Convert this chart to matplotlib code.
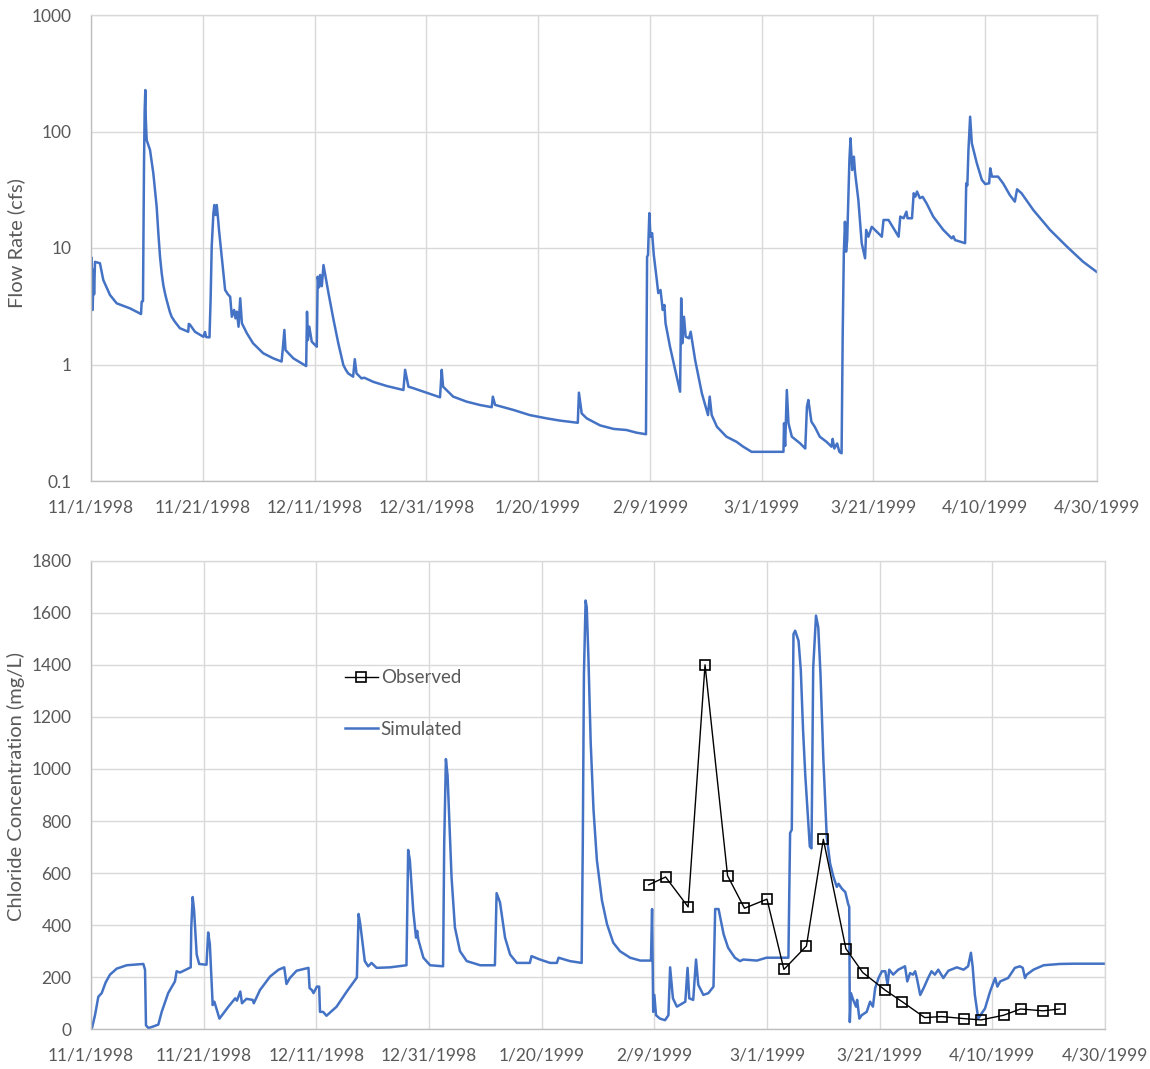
import numpy as np
import pandas as pd
import matplotlib
matplotlib.use("Agg")
import matplotlib.pyplot as plt
from matplotlib.ticker import NullLocator

plt.rcParams["font.family"] = ["Lato", "DejaVu Sans"]

START = "11/1/1998"
date_labels = ["11/1/1998", "11/21/1998", "12/11/1998", "12/31/1998", "1/20/1999",
               "2/9/1999", "3/1/1999", "3/21/1999", "4/10/1999", "4/30/1999"]

# Simulated flow, days since 11/1/1998 and cfs
flow_days = [0.12, 0.3, 0.45, 0.55, 0.72, 1.6, 2.2, 3.4, 4.6, 7.0, 8.95, 9.07, 9.3, 9.48, 9.6,
             9.72, 9.8, 9.96, 10.56, 11.15, 11.75, 12.05, 12.35, 12.65, 12.94, 13.24, 13.53,
             14.1, 14.43, 15.0, 15.9, 17.4, 17.5, 17.7,
             18.6, 20.1, 20.4, 20.6, 21.2, 21.4, 21.6, 21.9, 22.07, 22.3, 22.5, 22.7, 22.9, 23.4,
             24.0, 24.5, 24.9, 25.2, 25.6, 25.85, 26.1, 26.4, 26.7, 27.0, 27.9, 29.0, 30.8, 32.6,
             34.1, 34.3, 34.6, 34.8, 36.2, 38.5, 38.65, 38.8, 39.06, 39.5, 40.4, 40.56, 40.8,
             41.0, 41.3, 41.6, 42.5, 43.4, 44.25, 45.15, 45.6, 46.0, 46.9, 47.2, 47.5, 48.4, 48.9,
             50.5, 52.9, 55.9, 56.2, 56.8, 57.5, 59.5, 62.45, 62.75, 63.0, 64.8, 67.2, 69.6, 71.7,
             71.9, 72.3, 75.6, 78.5, 81.5, 83.9, 87.1, 87.3, 87.8, 88.7, 91.1, 93.5, 95.8, 97.6,
             99.3, 99.5, 99.66, 99.9, 100.1, 100.4, 100.7, 101.2, 101.5, 101.9, 102.3, 102.6,
             102.8, 103.6, 104.8, 105.4, 105.6, 105.8, 106.1, 106.4, 107.0, 107.3, 108.1, 109.3,
             110.4, 110.7, 111.06, 112.0, 113.7, 115.5, 116.7, 118.2, 123.9, 124.0, 124.2, 124.5,
             124.8, 125.4, 126.9, 127.8, 128.1, 128.35, 128.9, 129.5, 130.4, 131.6, 132.5, 132.7,
             133.0, 133.5, 133.9, 134.3, 134.5, 134.7, 134.9, 135.1, 135.3, 135.5, 135.7, 135.9,
             136.2, 136.5, 136.7, 137.3, 137.9, 138.5, 138.7, 139.1, 139.7, 141.5, 141.8, 142.7,
             144.5, 144.8, 145.4, 145.9, 146.1, 146.9, 147.2, 147.5, 147.8, 148.3, 148.8, 149.5,
             150.7, 152.5, 154.0, 154.3, 154.6, 156.4, 156.6, 156.8, 157.0, 157.3, 157.6, 157.9,
             158.5, 159.4, 160.0, 160.7, 160.9, 161.2, 162.3, 163.2, 164.4, 165.3, 165.7, 166.5,
             168.6, 171.6, 174.6, 177.5, 179.9]
flow_cfs = [8.2, 2.94, 6.5, 4.0, 7.6, 7.4, 5.31, 3.95, 3.35, 3.03, 2.71, 3.46, 3.5, 49.9, 150,
            227, 130, 84.5, 69.4, 43.8, 22.6, 13.4, 8.4, 6.07, 4.81, 4.08, 3.58,
            2.84, 2.57, 2.33, 2.05, 1.91, 2.23, 2.2,
            1.91, 1.73, 1.9, 1.72, 1.71, 3.58, 10.3, 19.9, 23.4, 19.2, 23.4, 18.6, 14.3, 8.4,
            4.36, 4.0, 3.82, 2.57, 2.94, 2.49, 2.84, 2.11, 3.7, 2.26, 1.85, 1.52, 1.25, 1.13,
            1.06, 1.33, 1.98, 1.33, 1.13, 0.97, 2.84, 1.62, 2.11, 1.57, 1.42, 5.67, 4.6,
            5.87, 4.7, 7.14, 4.08, 2.41, 1.52, 0.99, 0.9, 0.84, 0.786, 1.11, 0.84, 0.76, 0.77,
            0.71, 0.654, 0.604, 0.9, 0.645, 0.63, 0.584, 0.523, 0.9, 0.645, 0.53, 0.48, 0.449, 0.43,
            0.53, 0.45, 0.407, 0.368, 0.345, 0.33, 0.316, 0.573, 0.38, 0.345, 0.30, 0.28, 0.274, 0.26,
            0.252, 8.4, 8.7, 19.9, 12.5, 13.4, 8.7, 5.5, 4.1, 4.36, 2.94, 3.24,
            2.26, 1.42, 0.786, 0.584, 3.7, 1.52, 2.57, 1.73, 1.68, 1.91, 1.09, 0.566,
            0.368, 0.53, 0.368, 0.292, 0.24, 0.217, 0.197, 0.178, 0.178, 0.313, 0.2, 0.604,
            0.313, 0.24, 0.21, 0.19, 0.434, 0.496, 0.323, 0.292, 0.24, 0.217, 0.197, 0.23,
            0.19, 0.21, 0.178, 0.173, 1.85, 9.0, 16.8, 9.3, 11.7, 25.8, 57, 87.4,
            46.7, 60.8, 45, 25.8, 11, 8.16, 14.3, 12.5, 15.2, 12.5, 17.4, 17.4,
            12.5, 18.6, 18, 20.5, 18, 18, 29.5, 27.6, 30.5, 26.8, 27.5, 24.2,
            18.6, 14.3, 12.1, 12.6, 11.7, 11, 35.9, 34.5, 69.4, 134, 79.2, 69.4,
            53.3, 38.4, 35.4, 35.9, 48.3, 41, 41, 35.9, 28.5, 25, 31.9, 29.5,
            21.2, 14.3, 10.3, 7.63, 6.26]

# Simulated chloride, days since 11/1/1998 and mg/L
sim_days = [0.12, 0.71, 1.3, 1.9, 2.6, 3.37, 4.56, 6.33, 9.29, 9.59, 9.76, 10.2, 10.8, 11.95, 12.55,
            13.7, 14.9, 15.2, 15.8, 17.7, 17.8, 18.05, 18.3, 18.76, 19.2, 20.5, 20.8, 21.1, 21.6,
            21.9, 22.8, 24.4, 25.6, 25.9, 26.5, 26.8, 27.6, 28.7, 28.9, 30.0, 31.8, 33.3, 34.3,
            34.7, 35.3, 36.5, 38.6, 38.8, 39.2, 39.5, 40.1, 40.5, 40.65, 41.2, 41.8, 43.6, 45.4,
            47.2, 47.5, 47.8, 48.6, 49.2, 49.8, 50.7, 53.1, 56.0, 56.3, 56.6, 57.2, 57.7, 57.9,
            58.1, 59.0, 60.2, 62.5, 62.7, 63.0, 63.3, 64.0, 64.6, 65.5, 66.7, 69.1, 71.7, 72.0,
            72.6, 73.5, 74.4, 75.6, 77.9, 78.2, 79.7, 81.5, 82.7, 83.0, 85.0, 87.1, 87.3, 87.5,
            87.8, 88.0, 88.3, 88.7, 89.2, 89.8, 90.7, 91.6, 92.7, 93.9, 95.7, 97.5, 99.4, 99.6,
            99.8, 100.0, 100.3, 101.0, 101.9, 102.5, 102.8, 103.3, 104.0, 105.5, 105.9, 106.2,
            106.9, 107.4, 107.8, 108.7, 109.6, 110.5, 110.8, 111.4, 112.3, 113.1, 114.3, 115.2,
            115.8, 118.2, 119.9, 123.8, 124.1, 124.4, 124.7, 125.0, 125.6, 126.0, 126.4, 126.8,
            127.6, 127.9, 128.2, 128.7, 129.1, 129.5, 130.0, 130.6, 131.2, 131.8, 132.4, 132.7,
            133.3, 133.9, 134.4, 134.6, 134.7, 134.9, 135.3, 135.8, 136.0, 136.4, 136.8, 137.7,
            138.3, 138.8, 139.2, 139.8, 140.4, 141.0, 141.4, 141.7, 142.4, 143.3, 144.5, 144.9,
            145.4, 145.9, 146.3, 146.6, 147.2, 147.8, 148.6, 149.2, 149.8, 150.4, 151.3, 152.2,
            153.7, 154.9, 155.7, 156.2, 156.5, 156.9, 157.5, 158.1, 158.7, 159.6, 160.5, 160.9,
            161.4, 162.8, 164.0, 164.9, 165.4, 165.8, 166.1, 167.3, 169.1, 172.0, 174.4, 179.9]
sim_mgl = [0, 54, 125, 139, 180, 210, 233, 246, 251, 229, 15, 5, 9, 18, 67,
           139, 184, 223, 218, 238, 391, 508, 456, 287, 251, 248, 372, 326, 93,
           106, 41, 87, 119, 110, 145, 100, 117, 113, 100, 151, 203, 229, 238,
           174, 197, 225, 236, 158, 151, 139, 164, 164, 67, 67, 52, 87, 145,
           199, 443, 404, 262, 242, 255, 236, 238, 246, 689, 650, 456, 352, 378,
           345, 275, 246, 242, 715, 1038, 974, 585, 391, 300, 262, 246, 246, 523,
           488, 352, 287, 255, 255, 281, 268, 255, 255, 275, 262, 255, 715, 1362,
           1647, 1621, 1427, 1103, 844, 650, 495, 404, 333, 300, 275, 264, 264, 462,
           67, 132, 54, 41, 35, 54, 238, 119, 87, 106, 236, 119,
           113, 268, 171, 132, 139, 164, 462, 462, 365, 313, 275, 262,
           268, 264, 275, 275, 754, 767, 1518, 1531, 1492, 1380, 1150, 974,
           702, 695, 1388, 1589, 1544, 1362, 1038, 741, 637, 585, 547, 559,
           540, 527, 482, 469, 28, 139, 113, 87, 113, 41, 54, 67,
           106, 87, 158, 197, 223, 223, 171, 229, 210, 229, 242, 184,
           216, 210, 223, 197, 132, 158, 197, 223, 210, 229, 197, 225,
           238, 229, 242, 294, 242, 132, 41, 61, 80, 145, 197, 164,
           184, 197, 236, 242, 236, 197, 210, 229, 246, 251, 252, 252]

# Observed chloride samples
obs_dates = ["2/8/1999", "2/11/1999", "2/15/1999", "2/18/1999", "2/22/1999", "2/25/1999",
             "3/1/1999", "3/4/1999", "3/8/1999", "3/11/1999", "3/15/1999", "3/18/1999",
             "3/22/1999", "3/25/1999", "3/29/1999", "4/1/1999", "4/5/1999", "4/8/1999",
             "4/12/1999", "4/15/1999", "4/19/1999", "4/22/1999"]
obs_mgl = [555, 585, 470, 1400, 590, 465, 500, 230, 320, 730, 310, 218,
           150, 106, 45, 49, 41, 36, 54, 78, 71, 78]

start = pd.to_datetime(START, format="%m/%d/%Y")
def to_days(labels):
    return (pd.to_datetime(labels, format="%m/%d/%Y") - start).days.to_numpy()

tick_pos = to_days(date_labels)
obs_days = to_days(obs_dates)

BLUE = "#4472C4"
GRID = "#D9D9D9"
AXIS = "#BFBFBF"
TXT = "#595959"
FS_TICK = 12.5
FS_LABEL = 14.5
FS_LEG = 13.5

fig = plt.figure(figsize=(11.5, 10.69), dpi=100)
ax1 = fig.add_axes([91 / 1150, 1 - 481 / 1069, 1006 / 1150, 466 / 1069])
ax2 = fig.add_axes([91 / 1150, 1 - 1029.3 / 1069, 1014 / 1150, 468.6 / 1069])

def style(ax):
    ax.set_xlim(tick_pos[0], tick_pos[-1])
    ax.set_xticks(tick_pos)
    ax.set_xticklabels(date_labels)
    ax.grid(True, color=GRID, linewidth=1.0)
    ax.set_axisbelow(True)
    for s in ("top", "right"):
        ax.spines[s].set_color(GRID)
        ax.spines[s].set_linewidth(1.0)
    for s in ("left", "bottom"):
        ax.spines[s].set_color(AXIS)
        ax.spines[s].set_linewidth(1.0)
    ax.tick_params(axis="both", length=0, labelsize=FS_TICK, labelcolor=TXT)
    ax.tick_params(axis="x", pad=13)
    ax.tick_params(axis="y", pad=14)

# Flow rate panel
ax1.plot(flow_days, flow_cfs, color=BLUE, linewidth=1.8, solid_joinstyle="round")
ax1.set_yscale("log")
ax1.set_ylim(0.1, 1000)
ax1.set_yticks([0.1, 1, 10, 100, 1000])
ax1.set_yticklabels(["0.1", "1", "10", "100", "1000"])
ax1.yaxis.set_minor_locator(NullLocator())
style(ax1)
ax1.set_ylabel("Flow Rate (cfs)", fontsize=FS_LABEL, color=TXT, va="center")
ax1.yaxis.set_label_coords(-0.0746, 0.51)

# Chloride panel
ax2.plot(obs_days, obs_mgl, color="black", linewidth=1.0, marker="s", markersize=7,
         markerfacecolor="none", markeredgecolor="black", markeredgewidth=1.2,
         label="Observed", zorder=3)
ax2.plot(sim_days, sim_mgl, color=BLUE, linewidth=1.8, solid_joinstyle="round",
         label="Simulated", zorder=2)
ax2.set_ylim(0, 1800)
ax2.set_yticks(np.arange(0, 1801, 200))
style(ax2)
ax2.set_ylabel("Chloride Concentration (mg/L)", fontsize=FS_LABEL, color=TXT, va="center")
ax2.yaxis.set_label_coords(-0.074, 0.518)

leg = ax2.legend(loc="center left", bbox_to_anchor=(0.2505, 0.695), frameon=False,
                 fontsize=FS_LEG, handlelength=1.75, handletextpad=0.15, labelspacing=1.85,
                 borderpad=0, borderaxespad=0)
for t in leg.get_texts():
    t.set_color(TXT)

fig.savefig("out.png", dpi=100)
